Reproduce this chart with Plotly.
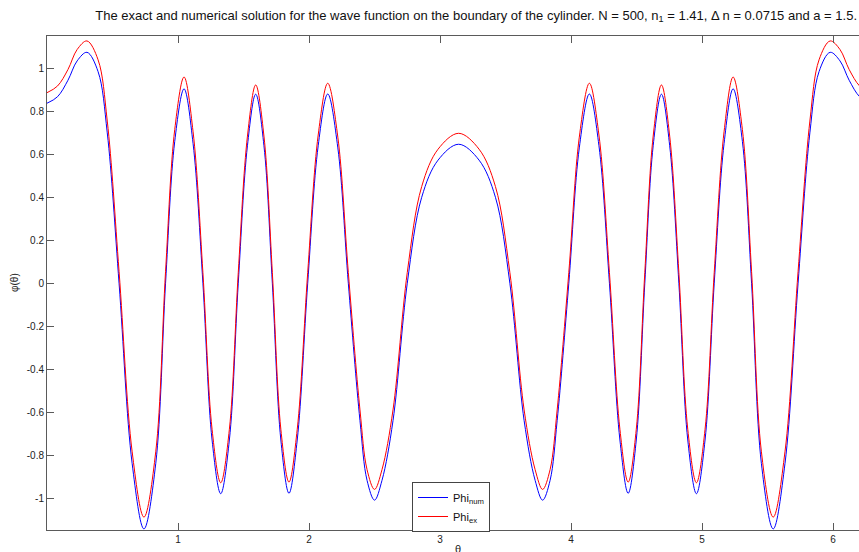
import plotly.graph_objects as go

theta = [0.000, 0.080, 0.160, 0.230, 0.305, 0.390, 0.460, 0.550, 0.650, 0.740,
         0.830, 0.905, 0.975, 1.046, 1.115, 1.190, 1.260, 1.326, 1.392, 1.460,
         1.530, 1.593, 1.656, 1.720, 1.785, 1.847, 1.910, 1.990, 2.070, 2.143,
         2.220, 2.300, 2.389, 2.443, 2.500, 2.557, 2.641, 2.750, 2.860, 2.985,
         3.142,
         3.298, 3.423, 3.533, 3.642, 3.726, 3.783, 3.840, 3.894, 3.983, 4.063,
         4.140, 4.213, 4.293, 4.373, 4.436, 4.498, 4.563, 4.627, 4.690, 4.753,
         4.823, 4.891, 4.957, 5.023, 5.093, 5.168, 5.237, 5.308, 5.378, 5.453,
         5.543, 5.633, 5.733, 5.823, 5.893, 5.978, 6.053, 6.123, 6.203, 6.283]

phi_num = [0.838, 0.868, 0.945, 1.035, 1.075, 0.985, 0.700, 0.000, -0.840, -1.144,
           -0.840, 0.000, 0.660, 0.905, 0.650, 0.000, -0.730, -0.980, -0.730, 0.000,
           0.640, 0.880, 0.640, 0.000, -0.730, -0.978, -0.730, 0.000, 0.640, 0.881,
           0.630, 0.000, -0.640, -0.918, -1.010, -0.918, -0.640, 0.000, 0.400, 0.573,
           0.647,
           0.573, 0.400, 0.000, -0.640, -0.918, -1.010, -0.918, -0.640, 0.000, 0.630,
           0.881, 0.640, 0.000, -0.730, -0.978, -0.730, 0.000, 0.640, 0.880, 0.640,
           0.000, -0.730, -0.980, -0.730, 0.000, 0.650, 0.905, 0.660, 0.000, -0.840,
           -1.144, -0.840, 0.000, 0.700, 0.985, 1.075, 1.035, 0.945, 0.868, 0.838]

phi_ex = [0.887, 0.918, 0.995, 1.088, 1.128, 1.040, 0.755, 0.055, -0.785, -1.089,
          -0.785, 0.055, 0.715, 0.960, 0.705, 0.050, -0.680, -0.929, -0.680, 0.050,
          0.685, 0.923, 0.685, 0.050, -0.680, -0.926, -0.680, 0.050, 0.690, 0.931,
          0.680, 0.050, -0.590, -0.868, -0.960, -0.868, -0.590, 0.050, 0.450, 0.624,
          0.698,
          0.624, 0.450, 0.050, -0.590, -0.868, -0.960, -0.868, -0.590, 0.050, 0.680,
          0.931, 0.690, 0.050, -0.680, -0.926, -0.680, 0.050, 0.685, 0.923, 0.685,
          0.050, -0.680, -0.929, -0.680, 0.050, 0.705, 0.960, 0.715, 0.055, -0.785,
          -1.089, -0.785, 0.055, 0.755, 1.040, 1.128, 1.088, 0.995, 0.918, 0.887]

x_ticks = [1, 2, 3, 4, 5, 6]
y_ticks = [-1, -0.8, -0.6, -0.4, -0.2, 0, 0.2, 0.4, 0.6, 0.8, 1]
y_tick_labels = ["-1", "-0.8", "-0.6", "-0.4", "-0.2", "0", "0.2", "0.4", "0.6", "0.8", "1"]

title_text = ("The exact and numerical solution for the wave function on the boundary of the cylinder. "
              "N = 500, n<sub>1</sub> = 1.41, \u0394 n = 0.0715 and a = 1.5.")

FONT = "Liberation Sans, Arial, sans-serif"
AXC = "#5a5a5a"

fig = go.Figure()
fig.add_trace(go.Scatter(x=theta, y=phi_num, mode="lines", name="Phi<sub>num</sub>",
                         line=dict(color="#0000ff", width=1, shape="spline", smoothing=1.0)))
fig.add_trace(go.Scatter(x=theta, y=phi_ex, mode="lines", name="Phi<sub>ex</sub>",
                         line=dict(color="#ff0000", width=1, shape="spline", smoothing=1.0)))

fig.update_layout(
    width=859, height=552,
    margin=dict(l=47, r=0, t=36, b=22, pad=0),
    paper_bgcolor="white", plot_bgcolor="white",
    font=dict(family=FONT, size=10, color="#222"),
    title=dict(text=title_text, xref="container", x=857/859, xanchor="right",
               yref="container", y=1 - 15/552, yanchor="middle",
               font=dict(family=FONT, size=13, color="#111")),
    xaxis=dict(range=[0, 6.198], tickvals=x_ticks, ticks="inside", ticklen=7,
               tickcolor=AXC, showline=True, linecolor=AXC, linewidth=1,
               mirror="ticks", showgrid=False, zeroline=False,
               tickfont=dict(size=10, color="#222")),
    yaxis=dict(range=[-1.149, 1.151], tickvals=y_ticks, ticktext=y_tick_labels,
               ticks="inside", ticklen=7, tickcolor=AXC, showline=True,
               linecolor=AXC, linewidth=1, mirror=False, showgrid=False,
               zeroline=False, tickfont=dict(size=10, color="#222")),
    legend=dict(x=(412 - 47) / 812, y=(530 - 482) / 494, xanchor="left", yanchor="top",
                bordercolor="#444", borderwidth=1, bgcolor="white",
                font=dict(family=FONT, size=11, color="#111"),
                tracegroupgap=0, itemwidth=30),
    showlegend=True,
)

fig.add_annotation(text="\u03c6(\u03b8)", xref="paper", yref="paper",
                   x=-(47 - 14) / 812, y=(530 - 283) / 494, textangle=-90,
                   showarrow=False, xanchor="center", yanchor="middle",
                   font=dict(family=FONT, size=10, color="#222"))
fig.add_annotation(text="\u03b8", xref="paper", yref="paper",
                   x=(458 - 47) / 812, y=-(549 - 530) / 494,
                   showarrow=False, xanchor="center", yanchor="middle",
                   font=dict(family=FONT, size=11, color="#222"))

fig.write_html("out.html")
